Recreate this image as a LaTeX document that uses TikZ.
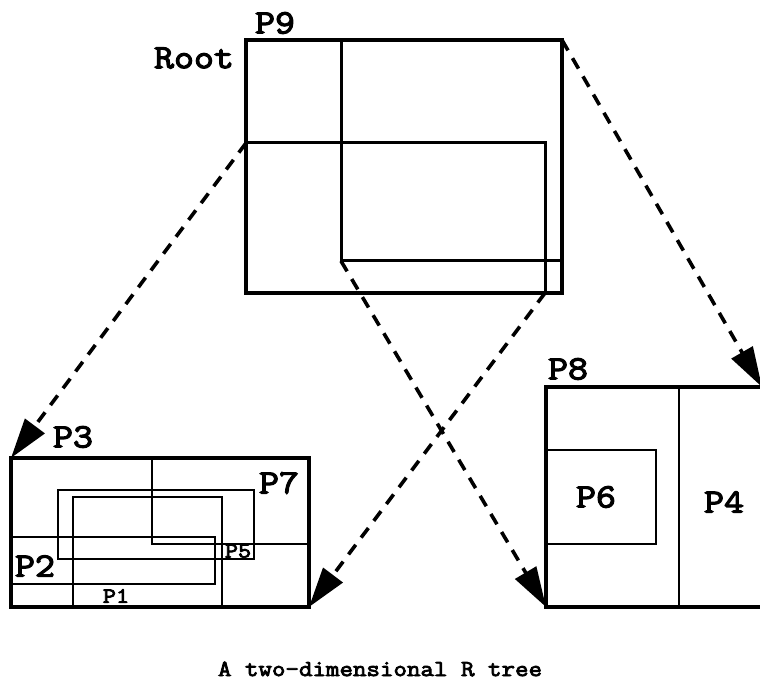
\documentclass[tikz,border=0pt]{standalone}
\usepackage{fontspec}
\newfontfamily\rtreefont{Latin Modern Mono}[FakeBold=3.5, FakeStretch=1.14]
\usetikzlibrary{arrows.meta}
\begin{document}
\begin{tikzpicture}[
  x=0.5pt, y=-0.5pt,
  outer/.style={line width=2.3pt},
  inner/.style={line width=1.5pt},
  fine/.style={line width=1pt},
  link/.style={line width=1.8pt, dash pattern=on 6pt off 4.5pt,
    -{Triangle[length=20pt,width=12pt]}},
  lbl/.style={font=\rtreefont\fontsize{17}{17}\selectfont, inner sep=0pt},
  small/.style={font=\rtreefont\fontsize{11}{11}\selectfont, inner sep=0pt},
  caption/.style={font=\rtreefont\fontsize{11.5}{11.5}\selectfont, inner sep=0pt}
]
\useasboundingbox (0,0) rectangle (760,679);

% Root node P9 and its two entries
\coordinate (rootNW) at (246,40);
\coordinate (rootSE) at (562,293);
\coordinate (eightNW) at (341,40);
\coordinate (eightSW) at (341,261);
\coordinate (eightNE) at (562,40);
\coordinate (eightSE) at (562,261);
\coordinate (threeNW) at (246,143);
\coordinate (threeSE) at (545,293);
\draw[inner] (eightNW) rectangle (eightSE);
\draw[inner] (threeNW) rectangle (threeSE);
\draw[outer] (rootNW) rectangle (rootSE);
\node[lbl] (p9) at (275,23) {P9};
\node[lbl] (root) at (194,58) {Root};

% Leaf node P3
\coordinate (nodeThreeNW) at (11,458);
\coordinate (nodeThreeSE) at (309,607);
\draw[fine] (152,458) rectangle (309,544);
\draw[fine] (11,537) rectangle (215,584);
\draw[fine] (58,490) rectangle (254,559);
\draw[fine] (73,497) rectangle (222,607);
\draw[outer] (nodeThreeNW) rectangle (nodeThreeSE);
\node[lbl] (p3) at (73,437) {P3};
\node[lbl] (p7) at (279,483) {P7};
\node[lbl] (p2) at (35,566) {P2};
\node[small] (p5) at (238,551) {P5};
\node[small] (p1) at (116,596) {P1};

% Leaf node P8
\coordinate (nodeEightNW) at (546,387);
\coordinate (nodeEightSW) at (546,607);
\coordinate (nodeEightNE) at (762,387);
\draw[fine] (679,387) -- (679,607);
\draw[fine] (546,450) rectangle (656,544);
\draw[outer] (nodeEightNW) rectangle (764,607);
\node[lbl] (p8) at (568,369) {P8};
\node[lbl] (p6) at (596,497) {P6};
\node[lbl] (p4) at (724,502) {P4};

% Pointers from root entries to children
\draw[link] (threeNW) -- (nodeThreeNW);
\draw[link] (threeSE) -- (nodeThreeSE);
\draw[link] (eightNE) -- (nodeEightNE);
\draw[link] (eightSW) -- (nodeEightSW);

\node[caption] (title) at (380,669) {A two-dimensional R tree};
\end{tikzpicture}
\end{document}
